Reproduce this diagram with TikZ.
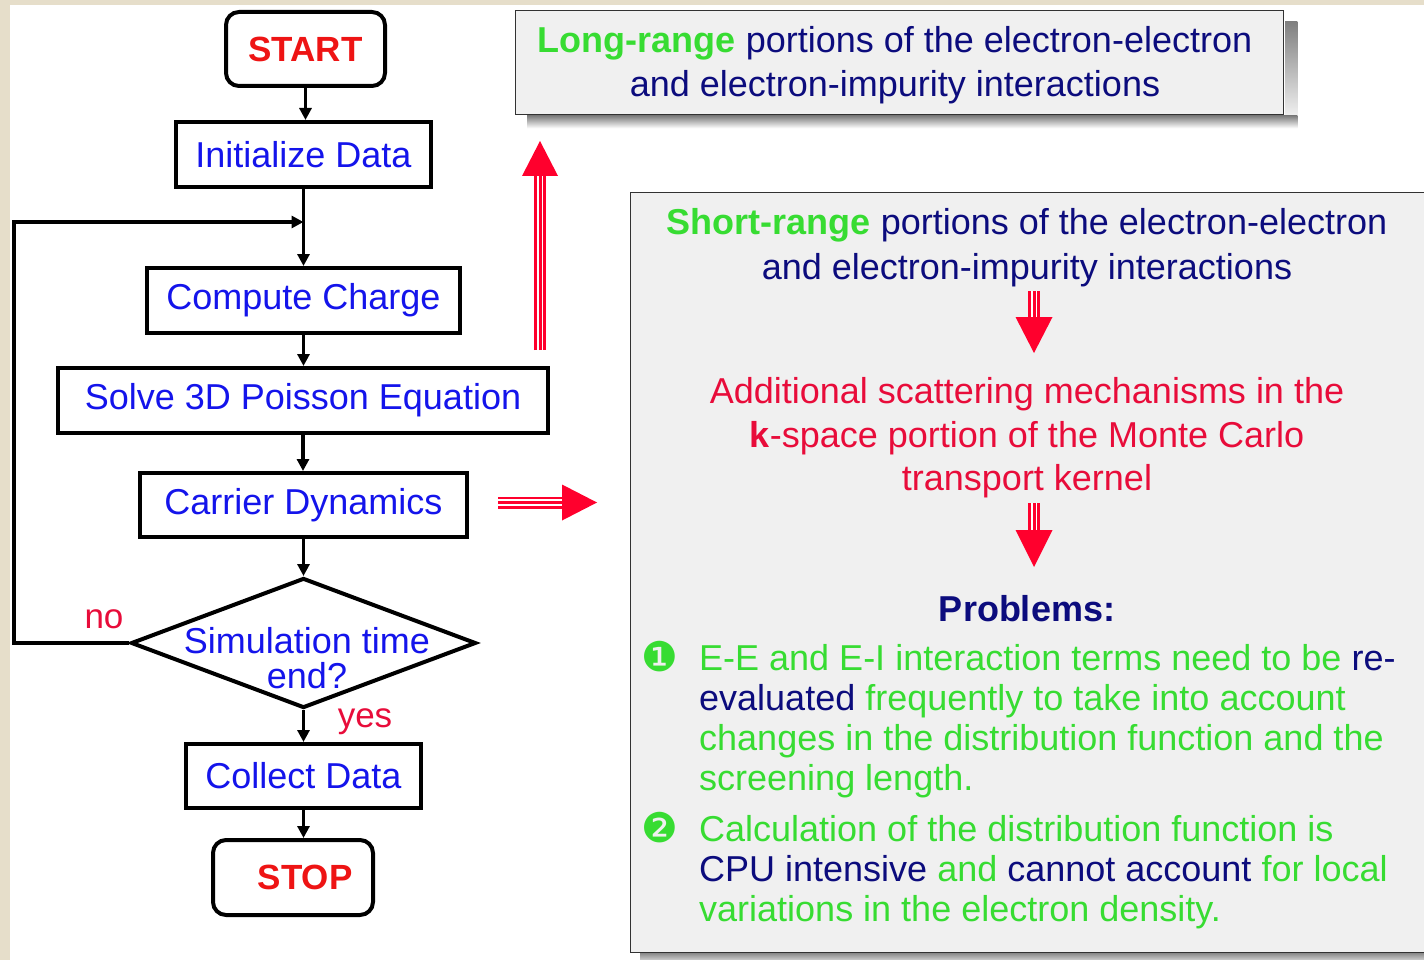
\documentclass[tikz,border=0pt]{standalone}
\usepackage{fontspec}
\setmainfont{Liberation Sans}
\newfontfamily\dejavu{DejaVu Sans}
\usetikzlibrary{arrows.meta,shapes.geometric,calc}

\definecolor{beige}{RGB}{230,222,202}
\definecolor{flowblue}{RGB}{20,20,235}
\definecolor{navy}{RGB}{12,12,125}
\definecolor{lime}{RGB}{55,220,50}
\definecolor{crimson}{RGB}{232,12,58}
\definecolor{startred}{RGB}{238,20,20}
\definecolor{arrowred}{RGB}{255,0,45}
\definecolor{panel}{RGB}{240,240,240}
\definecolor{shade}{RGB}{140,140,140}
\definecolor{edge}{RGB}{50,50,50}

\tikzset{
  big/.style={font=\fontsize{36}{40}\selectfont},
  flowbox/.style={draw=black, line width=4pt, fill=white, inner sep=0pt, big, text=flowblue},
  termbox/.style={flowbox, rounded corners=13pt, text=startred,
                  font=\fontsize{35}{40}\selectfont\bfseries},
  decision/.style={diamond, draw=black, line width=4pt, fill=white, inner sep=0pt},
  conn/.style={draw=black, line width=3.8pt, -{Triangle[length=12pt,width=12pt]}},
  panelbox/.style={draw=edge, line width=1.3pt, fill=panel, inner sep=0pt, anchor=north west},
  txtline/.style={big, inner sep=0pt, anchor=base, text=navy},
  txtleft/.style={big, inner sep=0pt, anchor=base west, text=lime},
  bulletmark/.style={text=lime, font=\dejavu\fontsize{41}{41}\selectfont, inner sep=0pt},
  answer/.style={font=\fontsize{35}{40}\selectfont, text=crimson, inner sep=0pt, anchor=base}
}

% red arrow with a triple-line shaft: start, tip, head length, head half-width
\newcommand\tripleshaft[4]{%
  \path ($(#2)!#3!(#1)$) coordinate (hb);
  \draw[arrowred, line width=12pt] (#1) -- (hb);
  \draw[white, line width=6.5pt] (#1) -- (hb);
  \draw[arrowred, line width=3pt] (#1) -- (hb);
  \fill[arrowred] (#2) -- ($(hb)!#4!90:(#2)$) -- ($(hb)!#4!-90:(#2)$) -- cycle;
}

\begin{document}
\begin{tikzpicture}[x=1pt, y=-1pt]
\useasboundingbox (0,0) rectangle (1424,960);
\clip (0,0) rectangle (1424,960);

% page background and frame strips
\fill[white] (0,0) rectangle (1424,960);
\fill[beige] (0,0) rectangle (10,960);
\fill[beige] (0,0) rectangle (1424,5);

% ---------------- flowchart ----------------
\node[termbox, minimum width=159pt, minimum height=74pt] (start) at (305.5,49) {START};
\node[flowbox, minimum width=255pt, minimum height=65pt] (init) at (303.5,154.5) {Initialize Data};
\node[flowbox, minimum width=313pt, minimum height=65pt] (charge) at (303.5,300.5) {Compute Charge};
\node[flowbox, minimum width=490pt, minimum height=65pt] (poisson) at (303,400.5) {Solve 3D Poisson Equation};
\node[flowbox, minimum width=327pt, minimum height=64pt] (carrier) at (303.5,505) {Carrier Dynamics};
\node[decision, minimum width=345pt, minimum height=130pt] (dec) at (303.5,643) {};
\node[flowbox, minimum width=235pt, minimum height=64pt] (collect) at (303.5,776) {Collect Data};
\node[termbox, minimum width=160pt, minimum height=75pt] (stop) at (293,877.5) {\hspace*{24pt}STOP};

\node[big, text=flowblue, align=center, inner sep=0pt, font=\fontsize{36}{34.5}\selectfont]
  (dectext) at (307,658) {Simulation time\\end?};

\node[answer] (no) at (104,628) {no};
\node[answer] (yes) at (365,727) {yes};

\coordinate (join) at (init.south |- 0,222);
\coordinate (loopcorner) at (14,643);

\draw[conn] (start.south) -- (start.south |- init.north);
\draw[conn] (init.south) -- (init.south |- charge.north);
\draw[conn] (charge.south) -- (charge.south |- poisson.north);
\draw[conn] (poisson.south) -- (poisson.south |- carrier.north);
\draw[conn] (carrier.south) -- (carrier.south |- dec.north);
\draw[conn] (dec.south) -- (dec.south |- collect.north);
\draw[conn] (collect.south) -- (collect.south |- stop.north);
\draw[conn] (dec.west) -- (loopcorner) |- (join);

% ---------------- long-range box ----------------
\node[panelbox, minimum width=768pt, minimum height=104pt] (longbox) at (515,10) {};
\fill[shade] ($(longbox.north east)+(0.7,12)$) rectangle ($(longbox.south east)+(13,13)$);
\fill[shade] ($(longbox.south west)+(12,0.7)$) rectangle ($(longbox.south east)+(13,13)$);
\node[txtline] (lr1) at (895,53) {\textcolor{lime}{\bfseries Long-range} portions of the electron-electron};
\node[txtline] (lr2) at (895,97) {and electron-impurity interactions};

% ---------------- short-range panel ----------------
\fill[shade] (640,952) rectangle (1440,965);
\node[panelbox, minimum width=820pt, minimum height=760pt] (shortbox) at (630,192) {};

\node[txtline] (sr1) at (1027,235) {\textcolor{lime}{\bfseries Short-range} portions of the electron-electron};
\node[txtline] (sr2) at (1027,279) {and electron-impurity interactions};

\node[txtline, text=crimson] (ad1) at (1027,403) {Additional scattering mechanisms in the};
\node[txtline, text=crimson] (ad2) at (1027,447) {\textbf{k}-space portion of the Monte Carlo};
\node[txtline, text=crimson] (ad3) at (1027,490) {transport kernel};

\node[txtline, font=\fontsize{36}{40}\selectfont\bfseries] (prob) at (1027,621) {Problems:};

\node[bulletmark] (b1) at (660,657) {❶};
\node[txtleft] (p1a) at (699,670) {E-E and E-I interaction terms need to be \textcolor{navy}{re-}};
\node[txtleft] (p1b) at (699,710) {\textcolor{navy}{evaluated} frequently to take into account};
\node[txtleft] (p1c) at (699,750) {changes in the distribution function and the};
\node[txtleft] (p1d) at (699,790) {screening length.};

\node[bulletmark] (b2) at (660,828) {❷};
\node[txtleft] (p2a) at (699,841) {Calculation of the distribution function is};
\node[txtleft] (p2b) at (699,881) {\textcolor{navy}{CPU intensive} and \textcolor{navy}{cannot account} for local};
\node[txtleft] (p2c) at (699,921) {variations in the electron density.};

% ---------------- red triple arrows ----------------
\coordinate (upS) at (540,350);
\coordinate (upT) at (540,141);
\coordinate (rtS) at (498,502.5);
\coordinate (rtT) at (597,502.5);
\coordinate (dnAS) at (1034,291);
\coordinate (dnAT) at (1034,353);
\coordinate (dnBS) at (1034,503);
\coordinate (dnBT) at (1034,567);

\tripleshaft{upS}{upT}{35pt}{18pt}
\tripleshaft{rtS}{rtT}{35pt}{18pt}
\tripleshaft{dnAS}{dnAT}{36pt}{18.5pt}
\tripleshaft{dnBS}{dnBT}{37pt}{18.5pt}

\end{tikzpicture}
\end{document}
